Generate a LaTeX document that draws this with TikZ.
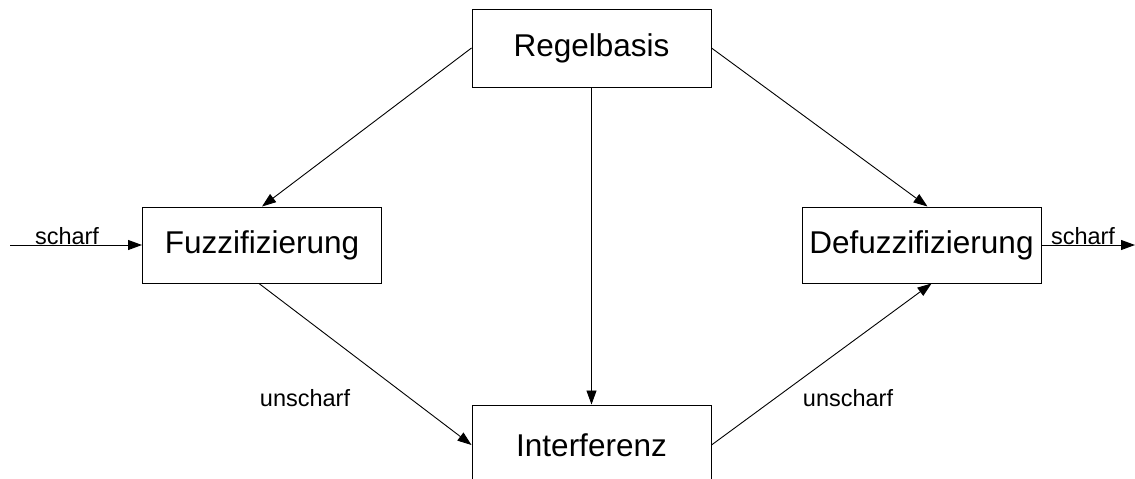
\documentclass[tikz,border=0pt]{standalone}
\usepackage{fontspec}
\setmainfont{Liberation Sans}
\usetikzlibrary{arrows.meta,calc}
\begin{document}
\begin{tikzpicture}[x=1pt,y=-1pt,
  blockbox/.style={draw, line width=1pt, minimum width=239pt, inner sep=0pt, font=\fontsize{31.5}{33}\selectfont},
  conn/.style={line width=0.9pt, -{Triangle[length=14pt,width=10pt]}},
  lbl/.style={font=\fontsize{23.5}{25}\selectfont, inner sep=0pt}]
\useasboundingbox (0,0) rectangle (1135,479);
\node[blockbox, minimum height=78pt] (R) at (591.5,48) {Regelbasis};
\node[blockbox, minimum height=76pt] (F) at (262,245) {Fuzzifizierung};
\node[blockbox, minimum height=76pt] (D) at (921.5,245) {Defuzzifizierung};
\node[blockbox, minimum height=80pt] (I) at (591.5,445) {Interferenz};
\coordinate (in) at (10,245);
\coordinate (out) at (1135,245);
\draw[conn] (in) -- (F.west);
\draw[conn] (D.east) -- (out);
\draw[conn] (R.west) -- (F.north);
\draw[conn] (R.east) -- ([xshift=6pt]D.north);
\draw[conn] (R.south) -- (I.north);
\draw[conn] ([xshift=-3pt]F.south) -- (I.west);
\draw[conn] (I.east) -- ([xshift=10pt]D.south);
\node[lbl, anchor=base] (s1) at (67,244) {scharf};
\node[lbl, anchor=base] (s2) at (1083,244) {scharf};
\node[lbl] (u1) at (305,398) {unscharf};
\node[lbl] (u2) at (848,398) {unscharf};
\end{tikzpicture}
\end{document}
